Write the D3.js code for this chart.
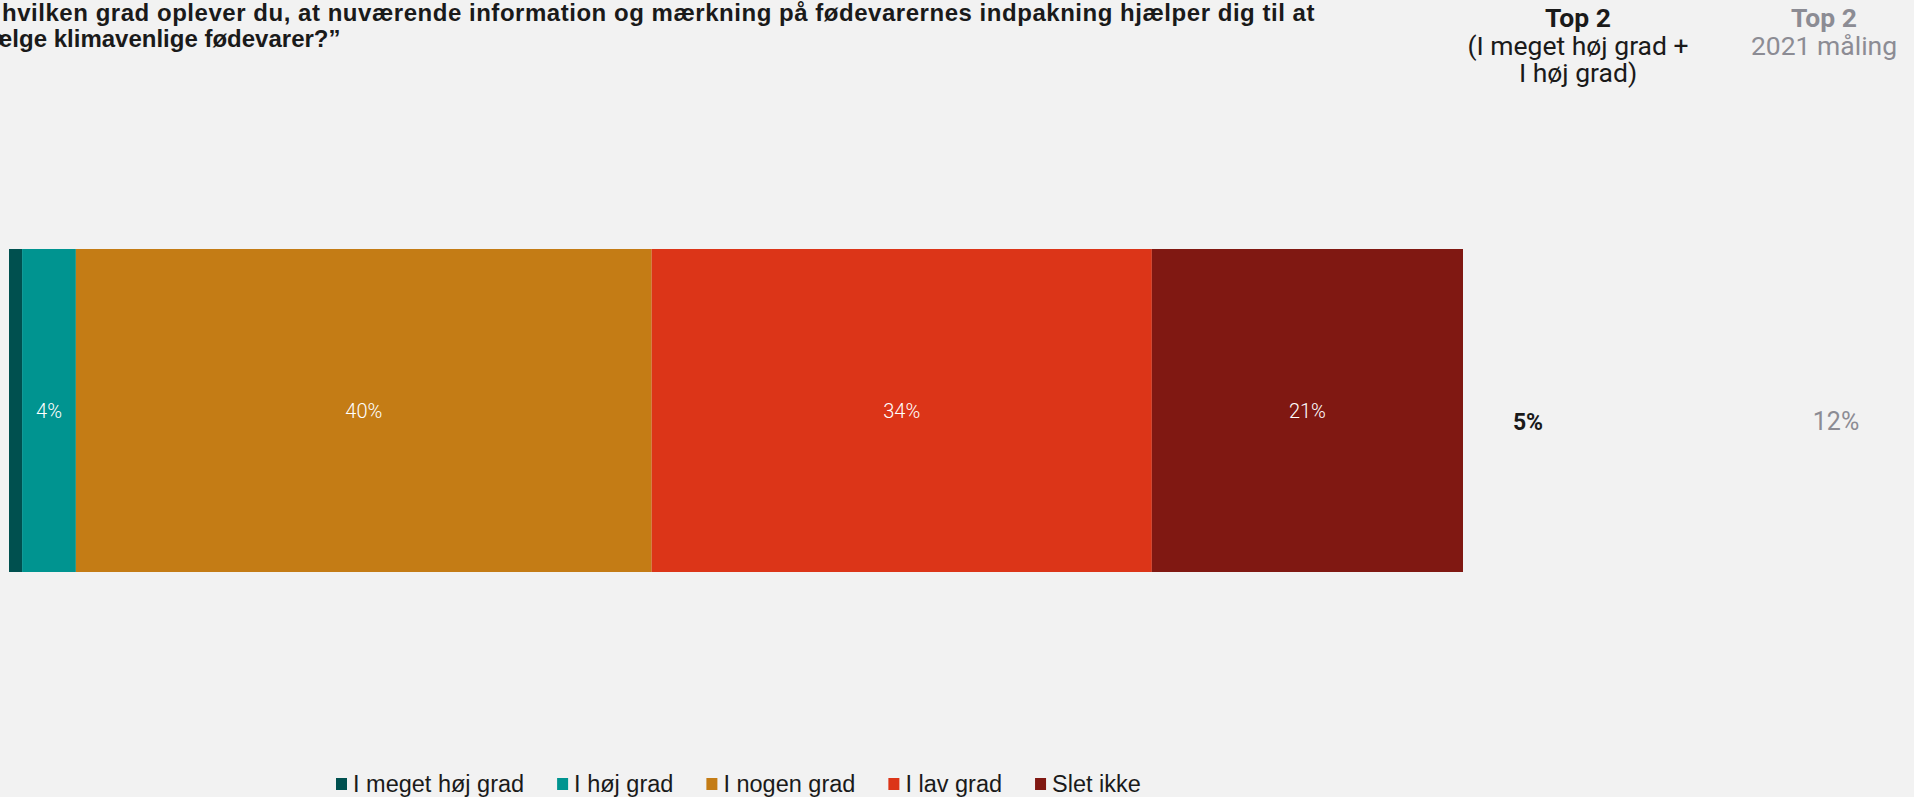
<!DOCTYPE html>
<html><head><meta charset="utf-8">
<script src="https://cdn.jsdelivr.net/npm/d3@7/dist/d3.min.js"></script>
<style>
html,body{margin:0;padding:0;background:#f2f2f2;overflow:hidden;}
svg{display:block;}
</style></head>
<body>
<svg id="c" width="1914" height="797"></svg>
<script>
const titleLines = ["\u201CI hvilken grad oplever du, at nuværende information og mærkning på fødevarernes indpakning hjælper dig til at", "vælge klimavenlige fødevarer?\u201D"];
const categories = ["I meget høj grad", "I høj grad", "I nogen grad", "I lav grad", "Slet ikke"];
const colors = ["#00504f", "#009490", "#c47c15", "#dc3518", "#801812"];
const rowLabels = ["Alle"];
const values = [0.9, 3.7, 39.6, 34.4, 21.4];
const top2Now = ["5%"];
const top2Prev = ["12%"];
const headerTop2 = ["Top 2", "(I meget høj grad +", "I høj grad)"];
const headerPrev = ["Top 2", "2021 måling"];

const svg = d3.select("#c");
const x = d3.scaleLinear().domain([0, 100]).range([9, 1463]);
const y = d3.scaleBand().domain(rowLabels).range([249, 572]).padding(0);

const measure = (txt, font) => {
  const t = svg.append("text").attr("style", font).text(txt);
  const w = t.node().getComputedTextLength(); t.remove(); return w;
};

// title (left part runs off the page, as in the reference); first line stretched to its width
const tFont = "font-family:'Liberation Sans',Arial;font-weight:bold;font-size:24px";
{
  const W = measure(titleLines[0], tFont);
  const P = measure("\u201CI h", tFont) - measure("h", tFont);
  const nch = titleLines[0].length - 3, target = 1313;
  const ls = Math.max(0, (target - (W - P)) / nch);
  svg.append("text").attr("x", 2 - (P + 3 * ls)).attr("y", 21)
    .attr("style", tFont + ";letter-spacing:" + ls + "px").attr("fill", "#1a1a1a").text(titleLines[0]);
  const P2 = measure("v\u00e6", tFont) - measure("e", tFont) + 1;
  svg.append("text").attr("x", -P2).attr("y", 47)
    .attr("style", tFont).attr("fill", "#1a1a1a").text(titleLines[1]);
}

// stacked segments
let acc = 0;
const segs = values.map((v, i) => { const s = {v, i, x0: acc, x1: acc + v}; acc += v; return s; });
const g = svg.append("g");
g.selectAll("rect").data(segs).join("rect")
  .attr("x", d => x(d.x0)).attr("width", d => x(d.x1) - x(d.x0))
  .attr("y", y(rowLabels[0])).attr("height", y.bandwidth())
  .attr("fill", d => colors[d.i]);
g.selectAll("text.lab").data(segs.filter(d => d.v >= 2)).join("text")
  .attr("class", "lab")
  .attr("x", d => (x(d.x0) + x(d.x1)) / 2)
  .attr("y", y(rowLabels[0]) + y.bandwidth() / 2 + 7)
  .attr("text-anchor", "middle")
  .attr("style", "font-family:Roboto;font-weight:300;font-size:20px")
  .attr("fill", "#ffffff")
  .text(d => Math.round(d.v) + "%");

// headers
const hFont = "font-family:Roboto;font-size:26.5px";
headerTop2.forEach((h, i) => {
  svg.append("text").attr("x", 1578).attr("y", 27 + i * 27.5).attr("text-anchor", "middle")
    .attr("style", hFont + (i === 0 ? ";font-weight:bold" : "")).attr("fill", "#1a1a1a").text(h);
});
headerPrev.forEach((h, i) => {
  svg.append("text").attr("x", 1824).attr("y", 27 + i * 27.5).attr("text-anchor", "middle")
    .attr("style", hFont + (i === 0 ? ";font-weight:bold" : "")).attr("fill", "#8c8c94").text(h);
});

// top2 values
svg.append("text").attr("x", 1528).attr("y", 430).attr("text-anchor", "middle")
  .attr("style", "font-family:Roboto;font-weight:bold;font-size:23px").attr("fill", "#1a1a1a").text(top2Now[0]);
svg.append("text").attr("x", 1836).attr("y", 430).attr("text-anchor", "middle")
  .attr("style", "font-family:Roboto;font-size:25px").attr("fill", "#8c8c94").text(top2Prev[0]);

// legend
const lFont = "font-family:'Liberation Sans',Arial;font-size:23.5px";
let lx = 336;
categories.forEach((c, i) => {
  svg.append("rect").attr("x", lx).attr("y", 778).attr("width", 11).attr("height", 12).attr("fill", colors[i]);
  const t = svg.append("text").attr("x", lx + 17).attr("y", 792).attr("style", lFont).attr("fill", "#1a1a1a").text(c);
  lx += 17 + t.node().getComputedTextLength() + 33;
});
</script>
</body></html>
